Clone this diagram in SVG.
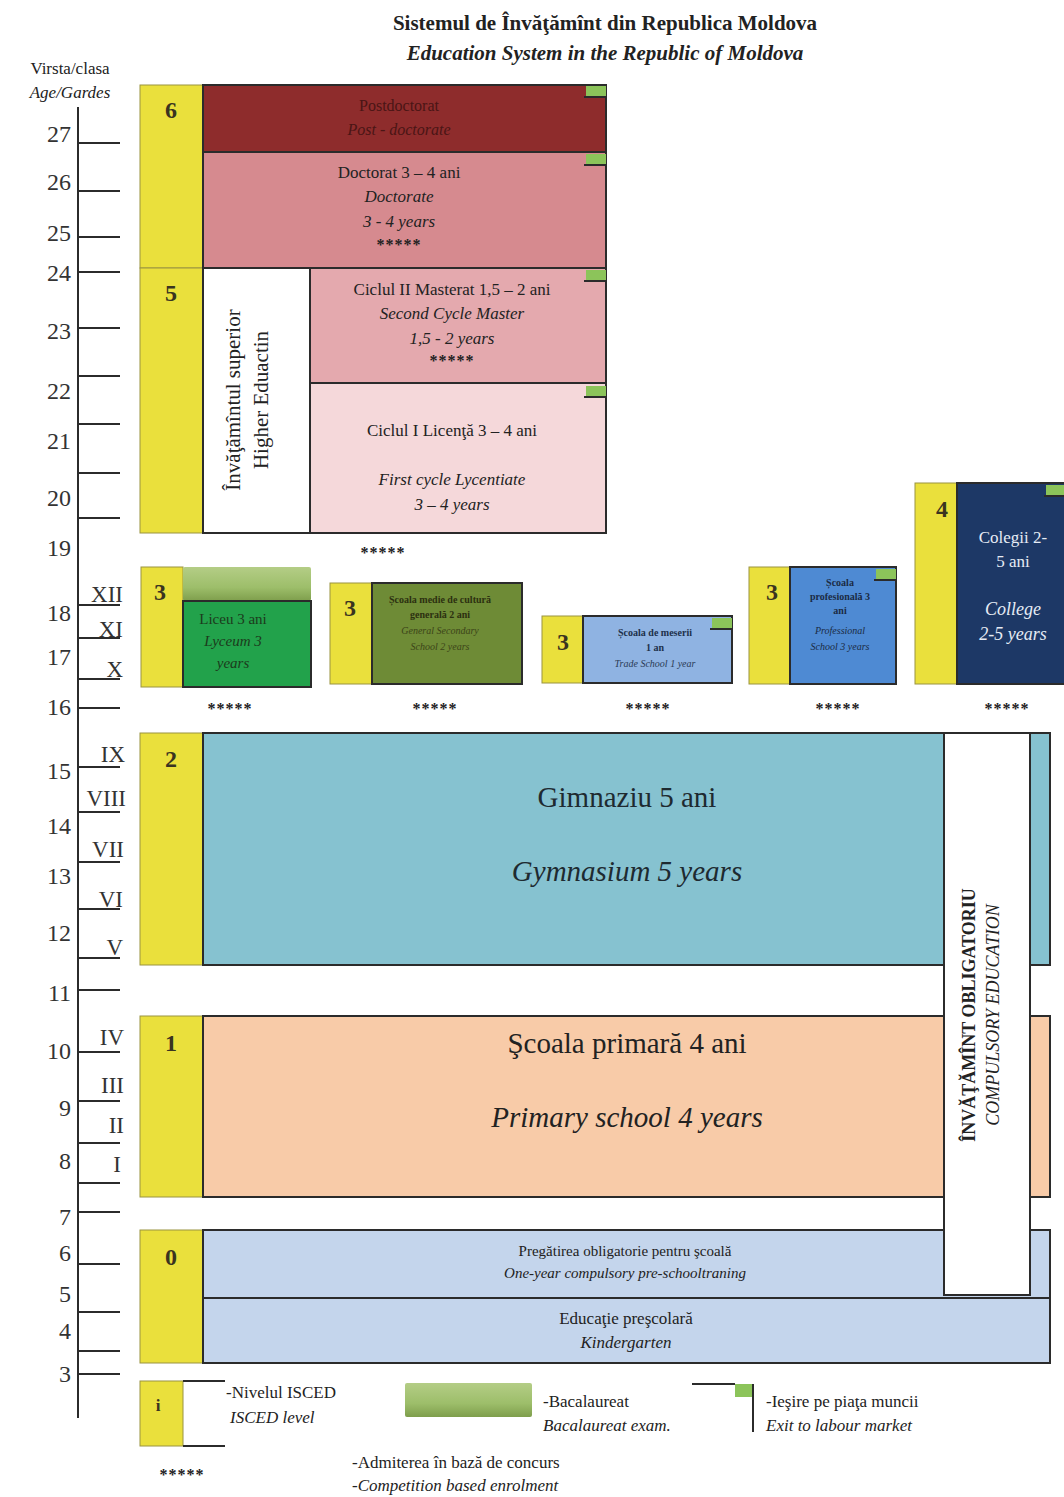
<svg xmlns="http://www.w3.org/2000/svg" width="1064" height="1497" viewBox="0 0 1064 1497" font-family="'Liberation Serif', 'Times New Roman', serif">
<style>
text{font-family:'Liberation Serif','Times New Roman',serif}
.t{text-anchor:middle}
.b{font-weight:bold}
.i{font-style:italic}
.box{stroke:#2b2b2b;stroke-width:2}
.yel{fill:#EAE03C;stroke:#9a9440;stroke-width:1}
.num{font-size:24px;font-weight:bold;text-anchor:middle;fill:#3a3420}
.age{font-size:24px;text-anchor:end;fill:#333}
.rom{font-size:23px;text-anchor:end;fill:#333}
.tick{stroke:#2b2b2b;stroke-width:2}
.star{font-size:16px;font-weight:bold;text-anchor:middle;letter-spacing:1px;fill:#222}
</style>
<defs>
<g id="exit">
<rect x="-20" y="0" width="20" height="10" fill="#8CC45A"/>
<line x1="-22" y1="11" x2="0" y2="11" stroke="#2b2b2b" stroke-width="2"/>
</g>
<linearGradient id="bac" x1="0" y1="0" x2="0" y2="1">
<stop offset="0" stop-color="#B4CD86"/>
<stop offset="0.6" stop-color="#9DBE6A"/>
<stop offset="1" stop-color="#7E9E4C"/>
</linearGradient>
</defs>

<g id="title" fill="#222">
<text class="t b" x="605" y="30" font-size="21">Sistemul de Învăţămînt din Republica Moldova</text>
<text class="t b i" x="605" y="60" font-size="21">Education System in the Republic of Moldova</text>
</g>

<g id="axis" fill="#222">
<text x="70" y="74" font-size="17" text-anchor="middle">Virsta/clasa</text>
<text x="70" y="98" font-size="17" text-anchor="middle" class="i">Age/Gardes</text>
<line class="tick" x1="78" y1="107" x2="78" y2="1418" stroke-width="3"/>
<g class="tick">
<line x1="78" y1="143" x2="120" y2="143"/>
<line x1="78" y1="191" x2="120" y2="191"/>
<line x1="78" y1="237" x2="120" y2="237"/>
<line x1="78" y1="272" x2="120" y2="272"/>
<line x1="78" y1="328" x2="120" y2="328"/>
<line x1="78" y1="376" x2="120" y2="376"/>
<line x1="78" y1="424" x2="120" y2="424"/>
<line x1="78" y1="473" x2="120" y2="473"/>
<line x1="78" y1="518" x2="120" y2="518"/>
<line x1="78" y1="605" x2="120" y2="605"/>
<line x1="78" y1="638" x2="120" y2="638"/>
<line x1="78" y1="679" x2="120" y2="679"/>
<line x1="78" y1="708" x2="120" y2="708"/>
<line x1="78" y1="767" x2="120" y2="767"/>
<line x1="78" y1="812" x2="120" y2="812"/>
<line x1="78" y1="862" x2="120" y2="862"/>
<line x1="78" y1="909" x2="120" y2="909"/>
<line x1="78" y1="958" x2="120" y2="958"/>
<line x1="78" y1="990" x2="120" y2="990"/>
<line x1="78" y1="1052" x2="120" y2="1052"/>
<line x1="78" y1="1101" x2="120" y2="1101"/>
<line x1="78" y1="1143" x2="120" y2="1143"/>
<line x1="78" y1="1183" x2="120" y2="1183"/>
<line x1="78" y1="1212" x2="120" y2="1212"/>
<line x1="78" y1="1264" x2="120" y2="1264"/>
<line x1="78" y1="1312" x2="120" y2="1312"/>
<line x1="78" y1="1351" x2="120" y2="1351"/>
<line x1="78" y1="1374" x2="120" y2="1374"/>
</g>
<text class="age" x="71" y="142">27</text>
<text class="age" x="71" y="190">26</text>
<text class="age" x="71" y="241">25</text>
<text class="age" x="71" y="281">24</text>
<text class="age" x="71" y="339">23</text>
<text class="age" x="71" y="399">22</text>
<text class="age" x="71" y="449">21</text>
<text class="age" x="71" y="506">20</text>
<text class="age" x="71" y="556">19</text>
<text class="age" x="71" y="621">18</text>
<text class="age" x="71" y="665">17</text>
<text class="age" x="71" y="715">16</text>
<text class="age" x="71" y="779">15</text>
<text class="age" x="71" y="834">14</text>
<text class="age" x="71" y="884">13</text>
<text class="age" x="71" y="941">12</text>
<text class="age" x="71" y="1001">11</text>
<text class="age" x="71" y="1059">10</text>
<text class="age" x="71" y="1116">9</text>
<text class="age" x="71" y="1169">8</text>
<text class="age" x="71" y="1225">7</text>
<text class="age" x="71" y="1261">6</text>
<text class="age" x="71" y="1302">5</text>
<text class="age" x="71" y="1339">4</text>
<text class="age" x="71" y="1382">3</text>
<text class="rom" x="123" y="602">XII</text>
<text class="rom" x="123" y="637">XI</text>
<text class="rom" x="123" y="677">X</text>
<text class="rom" x="125" y="762">IX</text>
<text class="rom" x="126" y="806">VIII</text>
<text class="rom" x="124" y="857">VII</text>
<text class="rom" x="123" y="907">VI</text>
<text class="rom" x="123" y="955">V</text>
<text class="rom" x="124" y="1045">IV</text>
<text class="rom" x="124" y="1093">III</text>
<text class="rom" x="124" y="1133">II</text>
<text class="rom" x="121" y="1172">I</text>
</g>

<g id="isced6">
<rect class="yel" x="140" y="85" width="63" height="183"/>
<text class="num" x="171" y="118">6</text>
</g>
<g id="postdoc">
<rect class="box" x="203" y="85" width="403" height="67" fill="#8E2C2C"/>
<text class="t" x="399" y="111" font-size="16" fill="#4a1515">Postdoctorat</text>
<text class="t i" x="399" y="135" font-size="16" fill="#4a1515">Post - doctorate</text>
<use href="#exit" x="606" y="86"/>
</g>
<g id="doctorat" fill="#222">
<rect class="box" x="203" y="152" width="403" height="116" fill="#D68A8F"/>
<text class="t" x="399" y="178" font-size="17">Doctorat 3 – 4 ani</text>
<text class="t i" x="399" y="202" font-size="17">Doctorate</text>
<text class="t i" x="399" y="227" font-size="17">3 - 4  years</text>
<text class="star" x="399" y="250">*****</text>
<use href="#exit" x="606" y="154"/>
</g>
<g id="isced5">
<rect class="yel" x="140" y="268" width="63" height="265"/>
<text class="num" x="171" y="301">5</text>
</g>
<g id="higher" fill="#222">
<rect class="box" x="203" y="268" width="107" height="265" fill="#ffffff"/>
<text class="t" transform="translate(240 400) rotate(-90)" font-size="21">Învăţămîntul superior</text>
<text class="t" transform="translate(268 400) rotate(-90)" font-size="21">Higher Eduactin</text>
</g>
<g id="masterat" fill="#222">
<rect class="box" x="310" y="268" width="296" height="115" fill="#E4A9AE"/>
<text class="t" x="452" y="295" font-size="17">Ciclul II Masterat 1,5 – 2 ani</text>
<text class="t i" x="452" y="319" font-size="17">Second Cycle Master</text>
<text class="t i" x="452" y="344" font-size="17">1,5 - 2  years</text>
<text class="star" x="452" y="366">*****</text>
<use href="#exit" x="606" y="270"/>
</g>
<g id="licenta" fill="#222">
<rect class="box" x="310" y="383" width="296" height="150" fill="#F5D8DA"/>
<text class="t" x="452" y="436" font-size="17">Ciclul I Licenţă 3 – 4 ani</text>
<text class="t i" x="452" y="485" font-size="17">First cycle Lycentiate</text>
<text class="t i" x="452" y="510" font-size="17">3 – 4  years</text>
<use href="#exit" x="606" y="386"/>
</g>
<text class="star" x="383" y="558">*****</text>

<g id="liceu">
<rect class="yel" x="141" y="567" width="42" height="120"/>
<text class="num" x="160" y="600">3</text>
<rect x="183" y="567" width="128" height="34" rx="2" fill="url(#bac)"/>
<rect class="box" x="183" y="601" width="128" height="86" fill="#22A24B"/>
<text class="t" x="233" y="624" font-size="15" fill="#1c3a1c">Liceu 3 ani</text>
<text class="t i" x="233" y="646" font-size="15" fill="#1c3a1c">Lyceum 3</text>
<text class="t i" x="233" y="668" font-size="15" fill="#1c3a1c">years</text>
</g>
<g id="medie">
<rect class="yel" x="330" y="583" width="42" height="101"/>
<text class="num" x="350" y="616">3</text>
<rect class="box" x="372" y="583" width="150" height="101" fill="#6E8B36"/>
<text class="t b" x="440" y="603" font-size="10" fill="#2c3010">Școala medie de cultură</text>
<text class="t b" x="440" y="618" font-size="10" fill="#2c3010">generală 2 ani</text>
<text class="t i" x="440" y="634" font-size="10" fill="#3c4418">General Secondary</text>
<text class="t i" x="440" y="650" font-size="10" fill="#3c4418">School 2 years</text>
</g>
<g id="meserii">
<rect class="yel" x="542" y="616" width="41" height="67"/>
<text class="num" x="563" y="650">3</text>
<rect class="box" x="583" y="616" width="149" height="67" fill="#8FB3E2"/>
<text class="t b" x="655" y="636" font-size="10" fill="#20304a">Școala de meserii</text>
<text class="t b" x="655" y="651" font-size="10" fill="#20304a">1 an</text>
<text class="t i" x="655" y="667" font-size="10" fill="#2a3a55">Trade School 1 year</text>
<use href="#exit" x="732" y="618"/>
</g>
<g id="profesionala">
<rect class="yel" x="749" y="567" width="41" height="117"/>
<text class="num" x="772" y="600">3</text>
<rect class="box" x="790" y="567" width="106" height="117" fill="#4E8AD3"/>
<text class="t b" x="840" y="586" font-size="10" fill="#1b2a44">Școala</text>
<text class="t b" x="840" y="600" font-size="10" fill="#1b2a44">profesională 3</text>
<text class="t b" x="840" y="614" font-size="10" fill="#1b2a44">ani</text>
<text class="t i" x="840" y="634" font-size="10" fill="#1b2a44">Professional</text>
<text class="t i" x="840" y="650" font-size="10" fill="#1b2a44">School 3 years</text>
<use href="#exit" x="896" y="569"/>
</g>
<g id="colegii">
<rect class="yel" x="915" y="483" width="42" height="201"/>
<text class="num" x="942" y="517">4</text>
<rect class="box" x="957" y="483" width="112" height="201" fill="#1D3866"/>
<text class="t" x="1013" y="543" font-size="17" fill="#E6ECF5">Colegii 2-</text>
<text class="t" x="1013" y="567" font-size="17" fill="#E6ECF5">5 ani</text>
<text class="t i" x="1013" y="615" font-size="18" fill="#E6ECF5">College</text>
<text class="t i" x="1013" y="640" font-size="18" fill="#E6ECF5">2-5 years</text>
<use href="#exit" x="1066" y="485"/>
</g>
<g id="stars3">
<text class="star" x="230" y="714">*****</text>
<text class="star" x="435" y="714">*****</text>
<text class="star" x="648" y="714">*****</text>
<text class="star" x="838" y="714">*****</text>
<text class="star" x="1007" y="714">*****</text>
</g>

<g id="isced2">
<rect class="yel" x="140" y="733" width="63" height="232"/>
<text class="num" x="171" y="767">2</text>
</g>
<g id="gimnaziu" fill="#1e2a30">
<rect class="box" x="203" y="733" width="847" height="232" fill="#86C2D0"/>
<text class="t" x="627" y="807" font-size="29">Gimnaziu 5 ani</text>
<text class="t i" x="627" y="881" font-size="29">Gymnasium 5 years</text>
</g>
<g id="isced1">
<rect class="yel" x="140" y="1016" width="63" height="181"/>
<text class="num" x="171" y="1051">1</text>
</g>
<g id="primara" fill="#222">
<rect class="box" x="203" y="1016" width="847" height="181" fill="#F8CBA8"/>
<text class="t" x="627" y="1053" font-size="29">Şcoala primară 4 ani</text>
<text class="t i" x="627" y="1127" font-size="29">Primary school 4 years</text>
</g>
<g id="isced0">
<rect class="yel" x="140" y="1230" width="63" height="133"/>
<text class="num" x="171" y="1265">0</text>
</g>
<g id="pregatire" fill="#222">
<rect class="box" x="203" y="1230" width="847" height="68" fill="#C4D5EC"/>
<text class="t" x="625" y="1256" font-size="15">Pregătirea obligatorie pentru şcoală</text>
<text class="t i" x="625" y="1278" font-size="15">One-year compulsory pre-schooltraning</text>
</g>
<g id="gradinita" fill="#222">
<rect class="box" x="203" y="1298" width="847" height="65" fill="#C4D5EC"/>
<text class="t" x="626" y="1324" font-size="17">Educaţie preşcolară</text>
<text class="t i" x="626" y="1348" font-size="17">Kindergarten</text>
</g>
<g id="obligatoriu" fill="#222">
<rect class="box" x="944" y="733" width="86" height="562" fill="#ffffff"/>
<text class="t b" transform="translate(975 1015) rotate(-90)" font-size="18">ÎNVĂŢĂMÎNT OBLIGATORIU</text>
<text class="t i" transform="translate(999 1015) rotate(-90)" font-size="18">COMPULSORY EDUCATION</text>
</g>

<g id="legend" fill="#222">
<rect class="yel" x="140" y="1381" width="43" height="65"/>
<text class="t b" x="158" y="1411" font-size="17" fill="#3a3420">i</text>
<line class="tick" x1="183" y1="1381" x2="225" y2="1381"/>
<line class="tick" x1="183" y1="1446" x2="225" y2="1446"/>
<text x="226" y="1398" font-size="17">-Nivelul ISCED</text>
<text class="i" x="230" y="1423" font-size="17">ISCED level</text>
<text class="star" x="182" y="1480">*****</text>
<rect x="405" y="1383" width="127" height="34" rx="2" fill="url(#bac)"/>
<text x="543" y="1407" font-size="17">-Bacalaureat</text>
<text class="i" x="543" y="1431" font-size="17">Bacalaureat exam.</text>
<line class="tick" x1="692" y1="1384" x2="735" y2="1384"/>
<rect x="735" y="1384" width="17" height="13" fill="#8CC45A"/>
<line class="tick" x1="753" y1="1384" x2="753" y2="1432"/>
<text x="766" y="1407" font-size="17">-Ieşire pe piaţa muncii</text>
<text class="i" x="766" y="1431" font-size="17">Exit to labour market</text>
<text x="352" y="1468" font-size="17">-Admiterea în bază de concurs</text>
<text class="i" x="352" y="1491" font-size="17">-Competition based enrolment</text>
</g>
</svg>
